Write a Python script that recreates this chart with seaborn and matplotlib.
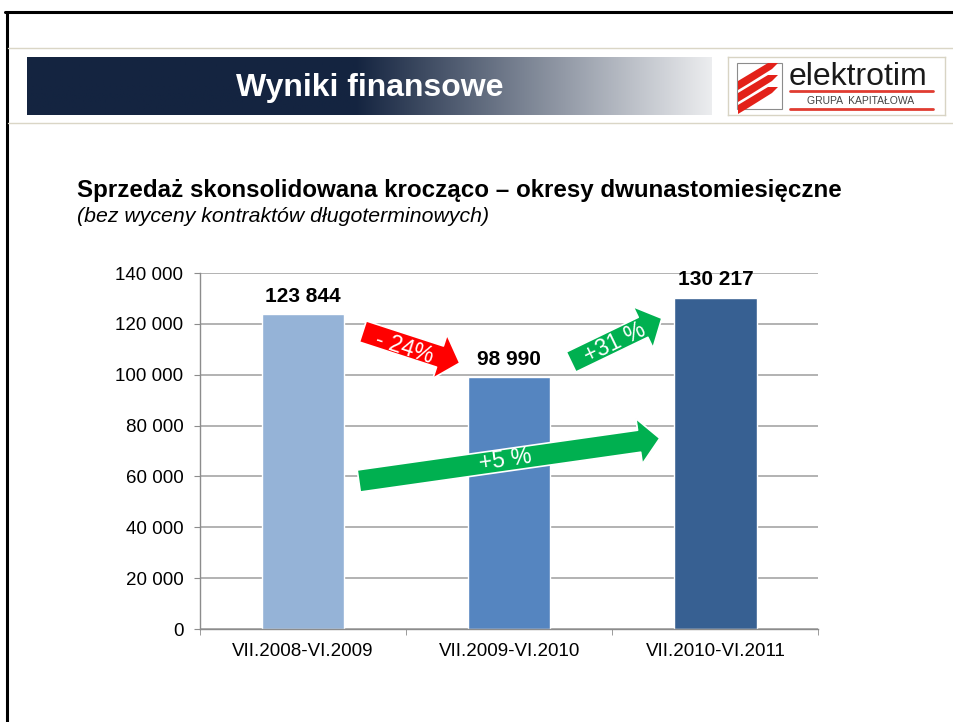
import math

import numpy as np
import seaborn as sns
from matplotlib import pyplot as plt
from matplotlib.lines import Line2D
from matplotlib.patches import FancyArrowPatch, Rectangle, Polygon

sns.set_style("white")
plt.rcParams["font.family"] = ["Liberation Sans", "DejaVu Sans"]
plt.rcParams["text.color"] = "black"

# data
periods = ["VII.2008-VI.2009", "VII.2009-VI.2010", "VII.2010-VI.2011"]
sales = [123844, 98990, 130217]
bar_colors = ["#95B3D7", "#5585C0", "#376092"]
yticks = [0, 20000, 40000, 60000, 80000, 100000, 120000, 140000]

# change arrows: (tail, tip, label, label position, colour)
changes = [
    ((0.29, 117000), (0.76, 104600), "- 24%", (0.49, 110600), "#FF0000"),
    ((1.30, 105000), (1.74, 122200), "+31 %", (1.51, 112400), "#00B050"),
    ((0.27, 58200), (1.73, 75000), "+5 %", (0.98, 66600), "#00B050"),
]

W, H = 954, 722
fig = plt.figure(figsize=(W / 100, H / 100), dpi=100)

# slide frame
fig.add_artist(Line2D([5 / W, 1], [1 - 12 / H] * 2, color="black", lw=2.2))
fig.add_artist(Line2D([7 / W] * 2, [0, 1 - 12 / H], color="black", lw=2.2))
for yy in (48, 123):
    fig.add_artist(Line2D([8 / W, 1], [1 - yy / H] * 2, color="#DAD6C6", lw=1))

# header bar with gradient
hax = fig.add_axes([27 / W, 1 - 115 / H, (712 - 27) / W, 58 / H])
t = np.linspace(0, 1, 400)
dark = np.array([0x14, 0x24, 0x40]) / 255
light = np.array([0xEC, 0xED, 0xEF]) / 255
k = np.clip((t - 0.48) / 0.52, 0, 1)[:, None]
grad = dark * (1 - k) + light * k
hax.imshow(grad[None, :, :], aspect="auto", extent=[0, 1, 0, 1])
hax.set_axis_off()
fig.text(370 / W, 1 - 88 / H, "Wyniki finansowe", color="white",
         fontsize=23, fontweight="bold", ha="center", va="center")

# logo
lax = fig.add_axes([728 / W, 1 - 115 / H, 217 / W, 58 / H])
lax.set_xlim(0, 217)
lax.set_ylim(58, 0)
lax.set_xticks([])
lax.set_yticks([])
for s in lax.spines.values():
    s.set_color("#D8D4C4")
    s.set_linewidth(1)
lax.add_patch(Rectangle((9, 6), 45, 46, fill=False, ec="#8C8C8C", lw=0.8))
for dy in (0, 12, 24):
    lax.add_patch(Polygon([(10, 24 + dy), (40, 6 + dy), (50, 6 + dy),
                           (44, 12 + dy), (20, 27 + dy), (10, 33 + dy)],
                          closed=True, color="#E32119", lw=0))
lax.text(61, 28, "elektrotim", fontsize=23, color="#1A1A1A", va="baseline")
lax.plot([62, 205], [34, 34], color="#E03C31", lw=2)
lax.plot([62, 205], [52, 52], color="#E03C31", lw=2)
lax.text(133, 43.5, "GRUPA  KAPITAŁOWA", fontsize=7.5, color="#444444",
         ha="center", va="center")

# titles
fig.text(77 / W, 1 - 190 / H,
         "Sprzedaż skonsolidowana krocząco – okresy dwunastomiesięczne",
         fontsize=17.4, fontweight="bold", va="center")
fig.text(77 / W, 1 - 217 / H, "(bez wyceny kontraktów długoterminowych)",
         fontsize=15.3, fontstyle="italic", va="center")

# chart
ax = fig.add_axes([200 / W, 1 - 629 / H, 618.5 / W, 356 / H])
sns.barplot(x=periods, y=sales, hue=periods, palette=bar_colors, width=0.4,
            saturation=1, legend=False, ax=ax, zorder=2)
ax.set_xlim(-0.5, 2.5)
ax.set_ylim(0, 140000)
ax.set_yticks(yticks)
ax.set_yticklabels([f"{v:,}".replace(",", " ") for v in yticks])
ax.yaxis.grid(True, color="#A6A6A6", lw=1.2)
ax.set_axisbelow(True)
for side in ("top", "right"):
    ax.spines[side].set_visible(False)
for side in ("left", "bottom"):
    ax.spines[side].set_color("#8C8C8C")
    ax.spines[side].set_linewidth(1)
ax.tick_params(axis="y", length=4, color="#8C8C8C", pad=8,
               labelsize=13.5, labelcolor="black", left=True)
ax.tick_params(axis="x", which="major", length=0, pad=10, labelsize=13.5,
               labelcolor="black")
ax.set_xticks([-0.5, 0.5, 1.5, 2.5], minor=True)
ax.tick_params(axis="x", which="minor", length=4, color="#8C8C8C", bottom=True)
ax.set_xlabel("")
ax.set_ylabel("")

for i, v in enumerate(sales):
    ax.annotate(f"{v:,}".replace(",", " "), (i, v), xytext=(0, 13),
                textcoords="offset points", ha="center", va="center",
                fontsize=15, fontweight="bold", color="black")


def disp_angle(p0, p1):
    a = ax.transData.transform([p0, p1])
    d = a[1] - a[0]
    return math.degrees(math.atan2(d[1], d[0]))


for tail, tip, label, lpos, col in changes:
    arr = FancyArrowPatch(tail, tip,
                          arrowstyle="simple,head_length=15,head_width=33,tail_width=16",
                          mutation_scale=1, shrinkA=0, shrinkB=0,
                          fc=col, ec="white", lw=1.2, zorder=5)
    ax.add_patch(arr)
    ax.text(lpos[0], lpos[1], label, color="white", fontsize=16.5,
            rotation=disp_angle(tail, tip), rotation_mode="anchor",
            ha="center", va="center", zorder=6)

plt.savefig("out.png", dpi=100)
